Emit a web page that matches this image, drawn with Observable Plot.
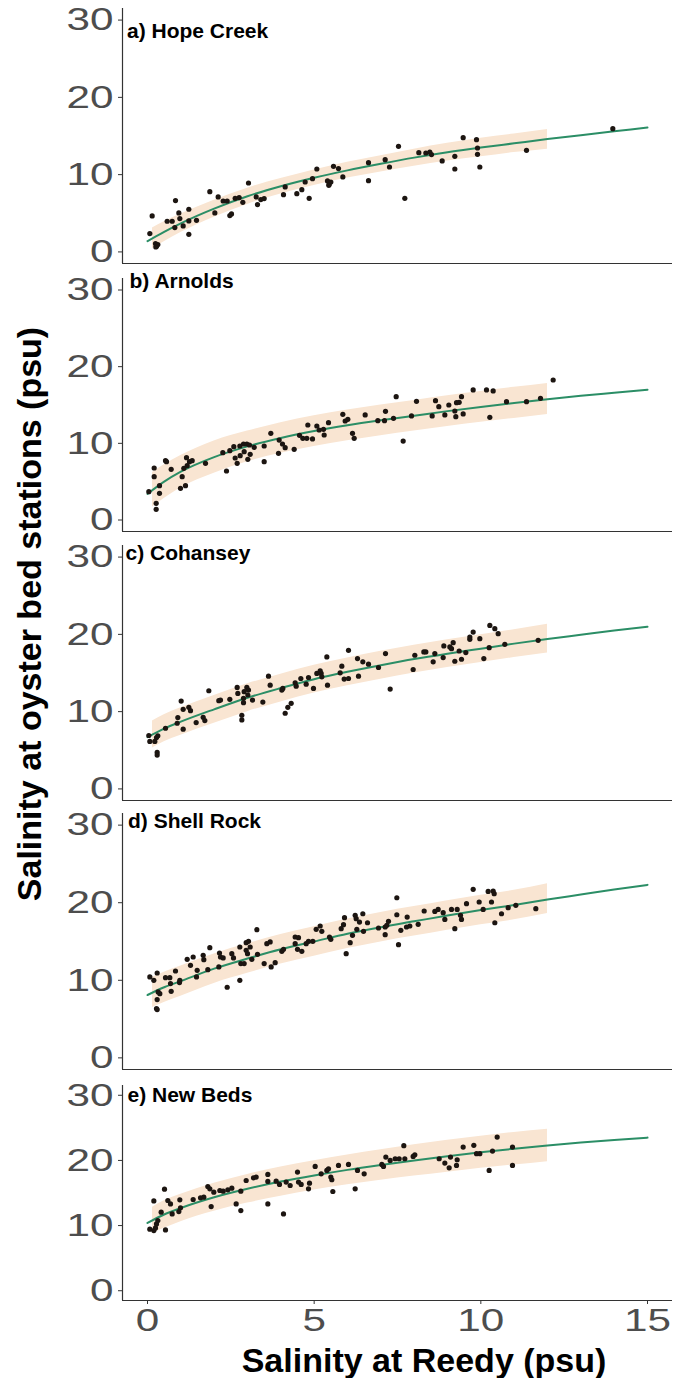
<!DOCTYPE html>
<html>
<head>
<meta charset="utf-8">
<script src="https://cdn.jsdelivr.net/npm/d3@7"></script>
<script src="https://cdn.jsdelivr.net/npm/@observablehq/plot@0.6"></script>
<style>
  body { margin: 0; background: #fff; }
  #fig { position: relative; width: 676px; height: 1378px; background: #fff; overflow: hidden;
         font-family: "Liberation Sans", Arial, sans-serif; }
  #fig svg.panel { position: absolute; left: 0; }
  #fig svg.titles { position: absolute; left: 0; top: 0; pointer-events: none; }
</style>
</head>
<body>
<div id="fig"></div>
<script>
// ---------- data ----------
const panelTitles = ["a) Hope Creek", "b) Arnolds", "c) Cohansey", "d) Shell Rock", "e) New Beds"];
const xTicks = [0, 5, 10, 15];
const yTicks = [0, 10, 20, 30];
const xTitle = "Salinity at Reedy (psu)";
const yTitle = "Salinity at oyster bed stations (psu)";

// fitted curve sample positions (Reedy salinity) and band positions
const fitX = [0, 0.5, 1, 2, 3, 4, 5, 6, 7, 8, 9, 10, 11, 12, 13, 14, 15];
const bandX = [0.15, 0.5, 1, 2, 3, 4, 5, 6, 7, 8, 9, 10, 11, 12];

// observations [Reedy, station]
const hopeCreek = [[0.14,4.66],[0.07,2.37],[0.24,1.08],[0.27,0.73],[0.31,0.95],[0.25,0.65],[0.84,6.64],[0.59,3.97],[0.74,3.97],[0.94,5.04],[0.97,4.31],[0.82,3.15],[1.07,3.36],[1.24,5.52],[1.24,2.28],[1.24,4.01],[1.47,4.09],[1.87,7.80],[2.02,5.04],[2.12,7.11],[2.27,6.59],[2.39,6.59],[2.47,4.70],[2.52,4.91],[2.63,6.94],[2.75,7.03],[2.86,6.42],[3.03,8.92],[3.26,7.11],[3.30,6.12],[3.40,6.77],[3.50,6.90],[4.08,7.41],[4.13,8.41],[4.48,7.54],[4.63,8.06],[4.85,6.94],[4.73,9.05],[4.95,9.48],[5.08,10.73],[5.40,9.18],[5.45,8.75],[5.50,9.05],[5.44,8.62],[5.58,11.08],[5.73,10.78],[5.86,9.70],[6.63,11.55],[6.63,9.22],[7.13,11.94],[7.26,10.99],[7.53,13.66],[7.72,6.94],[8.14,12.84],[8.35,12.80],[8.47,12.93],[8.52,12.59],[8.84,11.77],[9.22,12.37],[9.22,10.73],[9.47,14.78],[9.87,14.53],[9.90,13.45],[9.90,12.63],[9.97,10.99],[11.37,13.15],[13.96,15.95]];

const arnolds = [[0.04,3.70],[0.20,6.78],[0.20,5.65],[0.36,4.48],[0.36,3.48],[0.26,2.17],[0.26,1.39],[0.54,7.74],[0.57,7.61],[0.71,6.61],[0.99,4.13],[1.14,4.48],[1.04,5.65],[1.09,6.74],[1.17,8.13],[1.19,7.09],[1.26,7.61],[1.34,7.74],[1.74,7.39],[2.26,8.78],[2.37,6.39],[2.47,9.04],[2.59,9.57],[2.63,8.09],[2.69,7.39],[2.78,8.39],[2.77,9.65],[2.88,9.91],[2.90,8.91],[2.98,9.91],[3.01,7.91],[3.08,8.57],[3.06,9.78],[3.20,9.48],[3.50,9.65],[3.50,7.61],[3.70,11.30],[3.93,8.70],[3.95,10.43],[4.05,9.91],[4.13,9.43],[4.40,9.22],[4.56,11.04],[4.66,10.65],[4.78,10.65],[4.95,10.57],[4.81,12.39],[5.08,12.26],[5.15,11.74],[5.30,11.09],[5.28,11.83],[5.43,12.70],[5.86,13.78],[5.93,12.91],[6.01,13.13],[6.15,11.30],[6.20,10.65],[6.53,13.70],[6.91,12.96],[7.11,12.96],[7.14,14.17],[7.38,13.26],[7.46,16.09],[7.67,10.30],[7.92,13.57],[8.07,15.48],[8.54,13.57],[8.64,15.57],[8.74,14.78],[8.92,13.70],[9.04,15.00],[9.22,14.22],[9.25,13.48],[9.27,15.30],[9.35,15.35],[9.42,16.09],[9.47,13.83],[9.77,16.96],[10.17,16.96],[10.37,16.83],[10.27,13.39],[10.77,15.43],[11.37,15.43],[11.79,15.87],[12.17,18.26]];

const cohansey = [[0.04,6.91],[0.07,6.14],[0.22,6.14],[0.27,6.65],[0.31,6.87],[0.29,4.72],[0.29,4.38],[0.54,7.85],[0.91,9.23],[0.89,8.50],[1.01,11.37],[1.07,10.30],[1.07,7.73],[1.24,10.56],[1.29,10.13],[1.46,8.58],[1.67,9.27],[1.72,8.84],[1.84,12.70],[2.14,11.42],[2.19,11.50],[2.47,11.59],[2.69,13.13],[2.71,12.36],[2.83,9.53],[2.83,8.93],[2.88,11.72],[2.90,12.58],[2.98,13.13],[3.03,12.79],[3.01,12.15],[3.15,11.50],[2.88,11.16],[3.46,11.24],[3.63,14.59],[3.68,13.43],[4.03,12.79],[4.06,13.00],[4.13,9.79],[4.21,10.56],[4.31,11.07],[4.43,13.73],[4.46,13.30],[4.60,14.29],[4.76,13.56],[4.83,14.42],[4.98,13.00],[5.08,14.94],[5.18,15.28],[5.23,14.51],[5.21,14.94],[5.38,17.08],[5.40,13.43],[5.78,15.02],[5.83,15.88],[5.90,14.21],[6.03,17.94],[6.03,14.29],[6.30,16.87],[6.33,14.59],[6.46,16.44],[6.63,16.14],[6.93,15.71],[7.14,17.51],[7.28,12.92],[7.97,15.45],[8.02,17.30],[8.29,17.73],[8.35,17.73],[8.57,16.44],[8.62,17.51],[8.87,17.00],[8.89,18.50],[9.07,18.37],[9.12,18.15],[9.17,18.93],[9.22,16.52],[9.35,17.85],[9.42,16.78],[9.55,17.64],[9.67,19.66],[9.67,19.36],[9.77,20.30],[9.97,19.44],[10.09,16.87],[10.25,18.28],[10.27,21.16],[10.42,20.73],[10.52,20.09],[10.72,18.71],[11.72,19.23]];

const shellRock = [[0.07,10.43],[0.19,10.00],[0.29,10.94],[0.32,8.50],[0.37,8.28],[0.29,7.51],[0.27,6.35],[0.29,6.22],[0.54,10.34],[0.67,10.34],[0.71,8.58],[0.69,9.57],[0.84,11.20],[0.96,9.70],[0.97,10.00],[1.19,12.70],[1.29,11.93],[1.37,13.00],[1.47,10.43],[1.49,11.29],[1.67,13.22],[1.69,12.66],[1.81,11.37],[1.87,14.21],[2.14,11.72],[2.16,13.52],[2.19,13.00],[2.27,12.88],[2.39,9.10],[2.53,13.43],[2.58,12.88],[2.77,10.00],[2.77,14.29],[2.80,12.15],[2.90,12.15],[2.96,13.86],[2.96,14.85],[3.03,15.02],[3.00,13.43],[3.08,14.29],[3.13,12.70],[3.30,13.35],[3.28,16.52],[3.50,12.15],[3.58,14.72],[3.68,14.94],[3.71,11.72],[3.83,12.27],[4.03,13.73],[4.08,13.99],[4.43,15.58],[4.53,15.49],[4.43,14.72],[4.50,13.99],[4.63,13.73],[4.76,14.72],[4.83,15.02],[4.96,15.02],[5.06,16.57],[5.18,17.00],[5.23,16.31],[5.46,15.58],[5.50,15.28],[5.81,16.65],[5.88,17.17],[5.91,18.07],[5.96,13.43],[6.08,14.85],[6.15,15.79],[6.23,18.37],[6.26,17.94],[6.28,16.57],[6.36,17.51],[6.46,18.58],[6.48,16.31],[6.60,17.42],[6.93,16.74],[7.13,15.88],[7.13,16.87],[7.18,17.08],[7.23,17.60],[7.48,20.64],[7.48,18.45],[7.53,14.59],[7.60,16.44],[7.77,16.87],[7.79,18.15],[7.87,17.00],[8.12,17.21],[8.30,18.93],[8.62,18.88],[8.72,19.14],[8.87,18.71],[8.92,17.85],[9.12,19.14],[9.22,16.65],[9.29,19.14],[9.39,18.37],[9.42,17.85],[9.57,19.87],[9.77,21.72],[9.95,20.09],[10.07,19.14],[10.22,21.46],[10.37,21.50],[10.40,21.16],[10.32,20.09],[10.42,17.42],[10.62,18.58],[10.82,19.36],[11.05,19.66],[11.65,19.23]];

const newBeds = [[0.07,9.44],[0.19,9.23],[0.24,9.64],[0.27,10.26],[0.31,10.77],[0.19,13.79],[0.51,15.59],[0.54,9.33],[0.41,12.05],[0.61,13.85],[0.69,13.33],[0.74,11.79],[0.97,13.95],[0.99,12.72],[0.94,12.15],[1.37,14.00],[1.59,14.26],[1.69,14.36],[1.81,16.00],[1.87,15.64],[1.91,12.92],[1.99,15.13],[2.17,15.38],[2.27,15.28],[2.41,15.49],[2.53,15.74],[2.66,13.33],[2.80,15.28],[2.80,12.31],[2.96,16.92],[3.18,17.33],[3.26,17.44],[3.61,17.85],[3.61,16.77],[3.61,13.33],[3.86,16.82],[3.96,16.31],[4.08,11.79],[4.16,16.67],[4.28,16.15],[4.50,18.21],[4.53,16.67],[4.61,16.31],[4.83,15.64],[4.86,16.51],[5.03,19.08],[5.21,17.95],[5.38,18.46],[5.43,18.72],[5.50,17.44],[5.53,17.03],[5.56,15.23],[5.73,19.23],[6.03,19.38],[6.23,15.64],[6.30,18.46],[6.50,17.95],[7.03,19.38],[7.08,19.08],[7.15,20.51],[7.28,20.00],[7.43,20.26],[7.55,20.26],[7.69,22.26],[7.72,20.26],[7.97,20.62],[8.02,20.87],[8.75,20.26],[8.92,19.59],[9.05,18.87],[9.09,20.51],[9.27,19.23],[9.29,20.10],[9.47,22.05],[9.79,22.31],[9.87,21.03],[9.97,21.03],[10.25,18.46],[10.35,21.44],[10.49,23.59],[10.95,22.05],[10.95,19.23]];

// fitted curves (values at fitX)
const hopeCreekFit = [1.4, 2.6, 3.7, 5.6, 7.2, 8.5, 9.6, 10.55, 11.4, 12.2, 12.9, 13.5, 14.05, 14.6, 15.1, 15.6, 16.1];
const arnoldsFit   = [3.4, 5.0, 6.3, 8.2, 9.6, 10.7, 11.6, 12.35, 13.0, 13.6, 14.2, 14.75, 15.25, 15.75, 16.2, 16.6, 17.0];
const cohanseyFit  = [6.7, 7.8, 8.7, 10.3, 11.8, 13.05, 14.2, 15.15, 16.0, 16.8, 17.5, 18.15, 18.8, 19.4, 19.95, 20.5, 21.0];
const shellRockFit = [8.1, 9.1, 9.9, 11.5, 12.8, 14.0, 15.0, 16.0, 16.85, 17.6, 18.35, 19.05, 19.7, 20.4, 21.05, 21.7, 22.3];
const newBedsFit   = [10.4, 11.7, 12.7, 14.35, 15.65, 16.75, 17.7, 18.55, 19.3, 20.0, 20.65, 21.25, 21.8, 22.3, 22.75, 23.15, 23.5];

// shaded bands (values at bandX)
const hopeCreekLo = [0.4, 1.3, 2.5, 4.5, 6.15, 7.5, 8.6, 9.55, 10.35, 11.1, 11.75, 12.3, 12.85, 13.3];
const hopeCreekHi = [3.1, 3.9, 4.9, 6.7, 8.25, 9.5, 10.6, 11.6, 12.45, 13.3, 14.05, 14.7, 15.25, 15.85];
const arnoldsLo   = [1.7, 2.8, 4.2, 6.1, 7.6, 8.7, 9.6, 10.35, 11.0, 11.6, 12.2, 12.75, 13.25, 13.75];
const arnoldsHi   = [6.2, 7.2, 8.4, 10.3, 11.6, 12.7, 13.6, 14.35, 15.0, 15.6, 16.2, 16.75, 17.3, 17.8];
const cohanseyLo  = [5.3, 6.1, 6.95, 8.5, 10.0, 11.25, 12.4, 13.35, 14.2, 15.0, 15.7, 16.35, 17.0, 17.6];
const cohanseyHi  = [8.8, 9.6, 10.5, 12.1, 13.6, 14.85, 16.0, 16.95, 17.8, 18.6, 19.3, 19.95, 20.6, 21.3];
const shellRockLo = [6.5, 7.15, 7.95, 9.6, 10.9, 12.1, 13.1, 14.1, 14.95, 15.7, 16.45, 17.15, 17.8, 18.6];
const shellRockHi = [10.4, 11.05, 11.85, 13.4, 14.7, 15.9, 16.9, 17.9, 18.75, 19.5, 20.25, 20.95, 21.6, 22.45];
const newBedsLo   = [8.8, 9.6, 10.6, 12.2, 13.45, 14.5, 15.45, 16.25, 16.95, 17.6, 18.2, 18.8, 19.3, 19.8];
const newBedsHi   = [12.8, 13.8, 14.8, 16.5, 17.85, 19.0, 19.95, 20.85, 21.65, 22.4, 23.1, 23.7, 24.3, 24.8];

// ---------- layout ----------
const panels = [
  {pts: hopeCreek, fit: hopeCreekFit, lo: hopeCreekLo, hi: hopeCreekHi, top: 8,    bottom: 263,  tdx: 4.5, tdy: 15},
  {pts: arnolds,   fit: arnoldsFit,   lo: arnoldsLo,   hi: arnoldsHi,   top: 278,  bottom: 531,  tdx: 7,   tdy: -5},
  {pts: cohansey,  fit: cohanseyFit,  lo: cohanseyLo,  hi: cohanseyHi,  top: 545,  bottom: 800,  tdx: 3,   tdy: 0},
  {pts: shellRock, fit: shellRockFit, lo: shellRockLo, hi: shellRockHi, top: 813,  bottom: 1069, tdx: 5.5, tdy: 0},
  {pts: newBeds,   fit: newBedsFit,   lo: newBedsLo,   hi: newBedsHi,   top: 1085, bottom: 1300, tdx: 5,   tdy: 2}
];

const fig = document.getElementById("fig");
const AXIS = "#333333", TICKTXT = "#4d4d4d";

// widen text horizontally around its anchor (keeps Plot's translate)
function stretch(svg, selector, k) {
  svg.querySelectorAll(selector).forEach(t => {
    const tr = t.getAttribute("transform") || "";
    t.setAttribute("transform", `${tr} scale(${k},1)`);
  });
}

panels.forEach((p, i) => {
  const last = i === panels.length - 1;
  const mt = 10, mb = last ? 50 : 10;
  const pts = p.pts.map(([x, y]) => ({x, y}));
  const fit = fitX.map((x, j) => ({x, y: p.fit[j]}));
  const band = bandX.map((x, j) => ({x, lo: p.lo[j], hi: p.hi[j]}));
  const svg = Plot.plot({
    width: 676,
    height: (p.bottom - p.top) + mt + mb,
    marginTop: mt, marginBottom: mb, marginLeft: 122, marginRight: 4,
    style: {overflow: "visible", background: "transparent", fontFamily: '"Liberation Sans", Arial, sans-serif'},
    x: last ? {domain: [-0.75, 15.75]} : {domain: [-0.75, 15.75], axis: null},
    y: {domain: [-1.5, 31.5]},
    marks: [
      Plot.areaY(band, {x: "x", y1: "lo", y2: "hi", fill: "#f9e5d2", curve: "monotone-x"}),
      Plot.line(fit, {x: "x", y: "y", stroke: "#2b8e66", strokeWidth: 2, curve: "monotone-x"}),
      Plot.dot(pts, {x: "x", y: "y", r: 2.6, fill: "#1c1511", stroke: "none"}),
      Plot.ruleX([-0.75], {stroke: AXIS, strokeWidth: 1.2}),
      Plot.ruleY([-1.5], {stroke: AXIS, strokeWidth: 1.2}),
      Plot.axisY({ticks: yTicks, tickSize: 4, tickPadding: 5, fontSize: 32, stroke: AXIS, fill: TICKTXT, label: null}),
      last ? Plot.axisX({ticks: xTicks, tickSize: 4, tickPadding: 4, fontSize: 32, stroke: AXIS, fill: TICKTXT, label: null}) : null,
      Plot.text([panelTitles[i]], {text: d => d, frameAnchor: "top-left", dx: p.tdx, dy: p.tdy,
        lineAnchor: "top", textAnchor: "start", fontSize: 21, fontWeight: "bold", fill: "#000",
        ariaLabel: "panel title"})
    ]
  });
  svg.classList.add("panel");
  svg.style.top = (p.top - mt) + "px";
  stretch(svg, 'g[aria-label="y-axis tick label"] text', 1.32);
  stretch(svg, 'g[aria-label="x-axis tick label"] text', 1.32);
  stretch(svg, 'g[aria-label="panel title"] text', 1.16);
  fig.appendChild(svg);
});

// axis titles
const ns = "http://www.w3.org/2000/svg";
const ov = document.createElementNS(ns, "svg");
ov.setAttribute("class", "titles");
ov.setAttribute("width", 676);
ov.setAttribute("height", 1378);
function addText(str, transform, size) {
  const t = document.createElementNS(ns, "text");
  t.setAttribute("transform", transform);
  t.setAttribute("text-anchor", "middle");
  t.setAttribute("font-weight", "bold");
  t.setAttribute("font-size", size);
  t.setAttribute("font-family", '"Liberation Sans", Arial, sans-serif');
  t.setAttribute("fill", "#000");
  t.textContent = str;
  ov.appendChild(t);
}
addText(yTitle, "translate(41,614) rotate(-90)", 34);
addText(xTitle, "translate(424,1372)", 34);
fig.appendChild(ov);
</script>
</body>
</html>
